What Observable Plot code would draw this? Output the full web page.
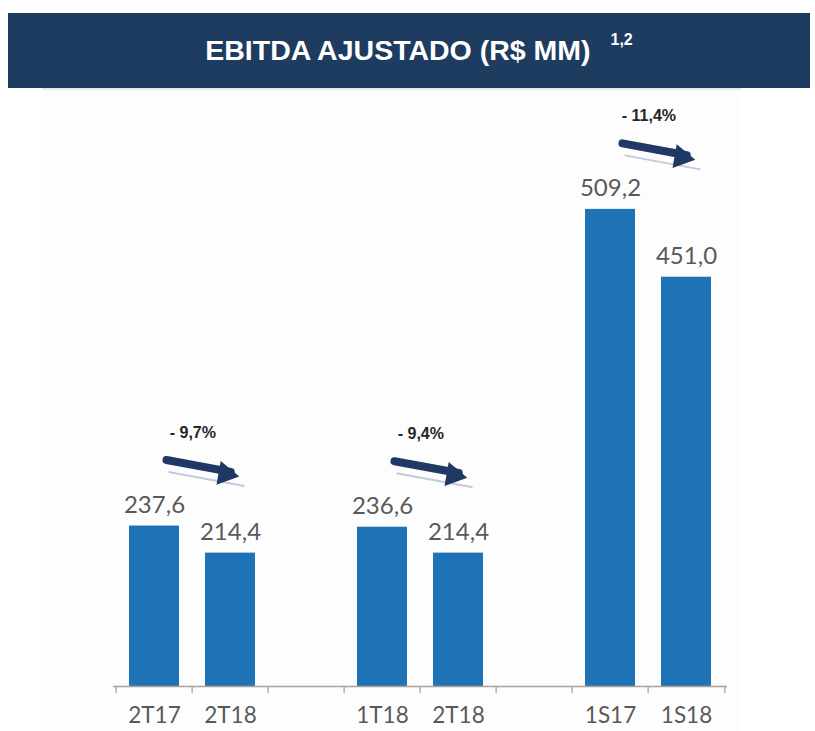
<!DOCTYPE html>
<html>
<head>
<meta charset="utf-8">
<script src="https://cdn.jsdelivr.net/npm/d3@7"></script>
<script src="https://cdn.jsdelivr.net/npm/@observablehq/plot@0.6"></script>
<style>
  html, body { margin: 0; padding: 0; background: #ffffff; }
  body { position: relative; width: 815px; height: 731px; overflow: hidden; }
  #banner {
    position: absolute; left: 8px; top: 13px; width: 802px; height: 75px;
    background: #1e3c60; color: #ffffff;
    font-family: "Liberation Sans", Arial, sans-serif; font-weight: bold;
    box-sizing: border-box; padding-left: 20px;
    display: flex; align-items: center; justify-content: center;
  }
  #banner .t { font-size: 28.5px; }
  #banner sup { font-size: 16px; position: relative; top: -11px; margin-left: 20px; vertical-align: top; }
  #panel {
    position: absolute; left: 42px; top: 88px; width: 699px; height: 643px;
    background: #fdfdfd; border-top: 2px solid #e4e9f0;
  }
  #chart { position: absolute; left: 0; top: 88px; }
</style>
</head>
<body>
<div id="panel"></div>
<div id="banner"><span class="t">EBITDA AJUSTADO (R$ MM)</span><sup>1,2</sup></div>
<div id="chart"></div>
<script>
// ---- data ----
const labels = ["2T17", "2T18", "", "1T18", "2T18", "", "1S17", "1S18"];
const values = [237.6, 214.4, null, 236.6, 214.4, null, 509.2, 451.0];
const pairs = [[0, 1], [3, 4], [6, 7]];
const changes = ["- 9,7%", "- 9,4%", "- 11,4%"];
const baseline = 100;

// ---- build tables ----
const keys = labels.map((_, i) => i);
const bars = keys.filter(i => values[i] != null).map(i => ({key: i, value: values[i]}));
const ann = pairs.map(([a, b], j) => ({a, b, hi: Math.max(values[a], values[b]), label: changes[j]}));

const W = 815, H = 643, ML = 113, MR = 88, MT = 15, MB = 45;
const step = (W - ML - MR) / keys.length;
const fmt = v => v.toFixed(1).replace(".", ",");
const axisColor = "#aaa39c";
const navy = "#1f3864";
const drop = 12; // slope of arrows in data units

const chart = Plot.plot({
  width: W, height: H,
  marginLeft: ML, marginRight: MR, marginTop: MT, marginBottom: MB,
  style: {background: "transparent", color: "#595959", fontFamily: "Lato, 'Open Sans', sans-serif", overflow: "visible"},
  x: {domain: keys, paddingInner: 0.34, paddingOuter: 0.17, axis: null},
  y: {domain: [baseline, 600], axis: null},
  marks: [
    Plot.barY(bars, {x: "key", y1: baseline, y2: "value", fill: "#1f72b6"}),
    Plot.ruleY([baseline], {stroke: axisColor, strokeWidth: 1.3}),
    Plot.ruleX(keys, {x: d => d, y1: baseline, y2: baseline - 6, dx: -step / 2, stroke: axisColor, strokeWidth: 1.3}),
    Plot.ruleX(keys.slice(-1), {x: d => d, y1: baseline, y2: baseline - 6, dx: step / 2, stroke: axisColor, strokeWidth: 1.3}),
    Plot.axisX({tickSize: 0, tickPadding: 21, tickFormat: i => labels[i], fontSize: 22.5, fill: "#595959"}),
    Plot.text(bars, {x: "key", y: "value", text: d => fmt(d.value), lineAnchor: "bottom", dy: -13, fontSize: 24, fill: "#595959"}),
    // arrow shadow
    Plot.link(ann, {x1: "a", x2: "b", y1: "hi", y2: d => d.hi - drop, dx: 14, dy: -54, stroke: "#c3cbd7", strokeWidth: 2}),
    // arrow shaft
    Plot.arrow(ann, {x1: "a", x2: "b", y1: "hi", y2: d => d.hi - drop, dx: 12, dy: -66, insetEnd: 12, headLength: 0, stroke: navy, strokeWidth: 8}),
    // arrow head
    Plot.dot(ann, {x: "b", y: d => d.hi - drop, dx: -5, dy: -66, symbol: "triangle", r: 9, rotate: 100, fill: navy, stroke: "none"}),
    // percentage labels
    Plot.text(ann, {x: "a", y: "hi", text: "label", dx: step / 2, dy: -93, fontSize: 16, fontWeight: "bold", fontFamily: "'Liberation Sans', Arial, sans-serif", fill: "#262626"})
  ]
});
document.getElementById("chart").appendChild(chart);
</script>
</body>
</html>
